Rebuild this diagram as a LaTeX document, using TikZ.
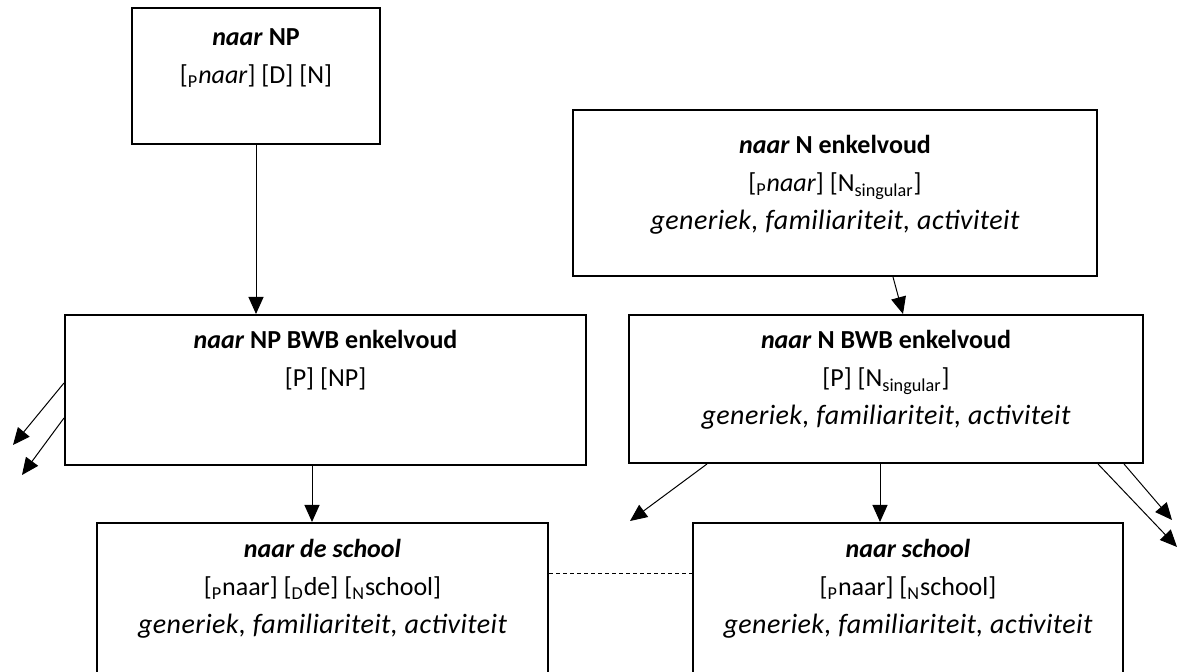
\documentclass[tikz,border=0pt]{standalone}
\usepackage{fontspec}
\setmainfont{Carlito}
\usetikzlibrary{arrows.meta,positioning,calc}

\newcommand{\lo}[1]{\textsubscript{#1}}
\newcommand{\wideit}[1]{{\fontsize{14}{19}\selectfont\itshape\addfontfeatures{LetterSpace=1.5}#1}}

\tikzset{
  box/.style={draw,line width=1pt,inner sep=0pt},
  txt/.style={align=center,inner sep=0pt,font=\fontsize{13}{19}\selectfont},
  arr/.style={line width=.5pt,-{Triangle[length=8.5pt,width=7.5pt]}},
}

\begin{document}
\begin{tikzpicture}[x=.5pt,y=-.5pt]
    \useasboundingbox (0,0) rectangle (1177,672);
    \clip (0,0) rectangle (1177,672);

    % boxes
    \node[box,minimum width=124pt,minimum height=68pt] (np) at (256,76) {};
    \node[box,minimum width=262pt,minimum height=83pt] (nenk) at (835,193) {};
    \node[box,minimum width=260.5pt,minimum height=75pt] (npbwb) at (325.5,390) {};
    \node[box,minimum width=257pt,minimum height=74pt] (nbwb) at (886,389) {};
    \node[box,minimum width=225.5pt,minimum height=98.5pt] (deschool) at (322.5,621.5) {};
    \node[box,minimum width=215pt,minimum height=98.5pt] (school) at (908,621.5) {};

    % texts
    \node[txt] (npT) at (256,58) {\textbf{\textit{naar} NP}\\
        {[}\lo{P}\textit{naar}] [D] [N]};
    \node[txt] (nenkT) at (835,185) {\textbf{\textit{naar} N enkelvoud}\\
        {[}\lo{P}\textit{naar}] [N\lo{singular}]\\
        \wideit{generiek, familiariteit, activiteit}};
    \node[txt] (npbwbT) at (325.5,360) {\textbf{\textit{naar} NP BWB enkelvoud}\\
        {[}P] [NP]};
    \node[txt] (nbwbT) at (886,380) {\textbf{\textit{naar} N BWB enkelvoud}\\
        {[}P] [N\lo{singular}]\\
        \wideit{generiek, familiariteit, activiteit}};
    \node[txt] (deschoolT) at (322.5,589) {\textbf{\textit{naar de school}}\\
        {[}\lo{P}naar] [\lo{D}de] [\lo{N}school]\\
        \wideit{generiek, familiariteit, activiteit}};
    \node[txt] (schoolT) at (908,589) {\textbf{\textit{naar school}}\\
        {[}\lo{P}naar] [\lo{N}school]\\
        \wideit{generiek, familiariteit, activiteit}};

    % free ends
    \coordinate (outL1) at (13,445);
    \coordinate (outL2) at (22,475);
    \coordinate (outM) at (630,521);
    \coordinate (outR1) at (1172,520);
    \coordinate (outR2) at (1177,547);

    % connectors
    \draw[arr] (np.south) -- (np.south |- npbwb.north);
    \draw[arr] ([xshift=29pt]nenk.south) -- ([xshift=8.5pt]nbwb.north);
    \draw[arr] ([xshift=-6.75pt]npbwb.south) coordinate (c1) -- (c1 |- deschool.north);
    \draw[arr] ([xshift=-3pt]nbwb.south) coordinate (c2) -- (c2 |- school.north);
    \draw[arr] ([yshift=-34.5pt]npbwb.north west) -- (outL1);
    \draw[arr] ([yshift=-52pt]npbwb.north west) -- (outL2);
    \draw[arr] ([xshift=39.5pt]nbwb.south west) -- (outM);
    \draw[arr] ([xshift=-10pt]nbwb.south east) -- (outR1);
    \draw[arr] ([xshift=-23pt]nbwb.south east) -- (outR2);
    \draw[line width=.5pt,dash pattern=on 2pt off 1.5pt]
        ([yshift=-26pt]deschool.north east) coordinate (c3) -- (c3 -| school.west);
\end{tikzpicture}
\end{document}
